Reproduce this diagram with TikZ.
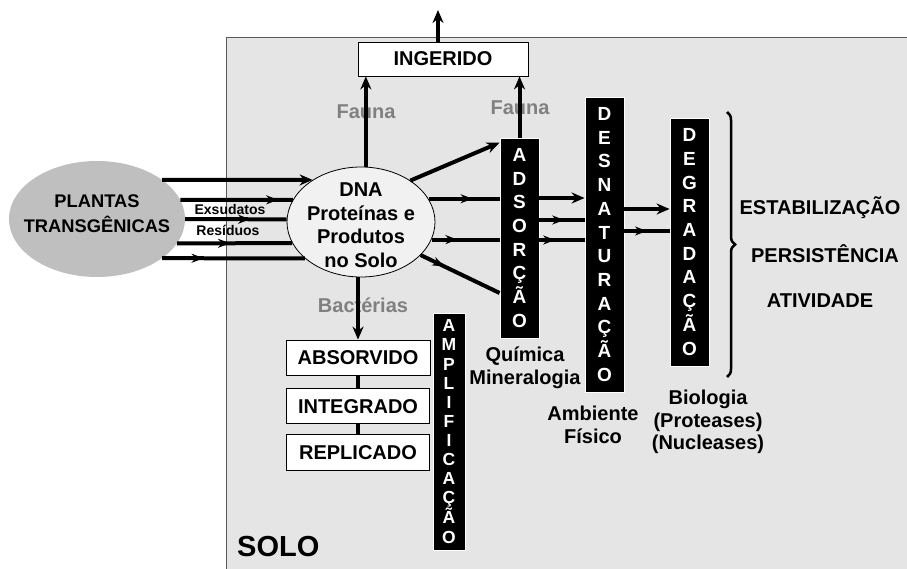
\documentclass[tikz,border=0pt]{standalone}
\usepackage{fontspec}
\setmainfont{Liberation Sans}
\usetikzlibrary{positioning,arrows.meta,calc,shapes.geometric,decorations.markings,decorations.pathreplacing}
\definecolor{soil}{RGB}{229,229,229}
\definecolor{plant}{RGB}{191,191,191}
\definecolor{dnafill}{RGB}{241,241,241}
\definecolor{fauna}{RGB}{128,128,128}
\newcommand{\boldsize}[2]{\fontsize{#1}{#2}\selectfont\bfseries}

\begin{document}
\begin{tikzpicture}[
  x=1pt, y=-1pt, >={Stealth[length=13pt,width=11pt]},
  flow/.style={line width=4pt},
  mid/.style={flow, postaction={decorate, decoration={markings, mark=at position #1 with {\arrow{Stealth[length=12pt,width=9pt]}}}}},
  box/.style={draw, line width=0.8pt, fill=white, inner sep=0pt, font=\boldsize{20}{23}},
  bar/.style={draw=white, line width=0.8pt, fill=black, text=white, inner sep=0pt, align=center, minimum width=39pt, font=\boldsize{19}{23.7}},
  txt/.style={align=center, inner sep=0pt, font=\boldsize{20}{23}},
  lbl/.style={txt, text=fauna},
]
  \useasboundingbox (0,0) rectangle (907,569);
  \fill[soil] (226,37) rectangle (907,569);
  \draw[black!65, line width=0.8pt] (226,569) |- (907,37);

  \node[ellipse, fill=plant, minimum width=176pt, minimum height=116pt] (plants) at (97,219) {};
  \node[txt, font=\boldsize{18.3}{25}] (plantstext) at ($(plants)+(0,-5)$) {PLANTAS\\TRANSGÊNICAS};
  \node[ellipse, draw, line width=0.8pt, fill=dnafill, minimum width=148pt, minimum height=110pt] (dna) at (361,222) {};
  \node[txt, font=\boldsize{20}{23.5}] (dnatext) at ($(dna)+(0,3)$) {DNA\\Proteínas e\\Produtos\\no Solo};

  \node[box, minimum width=170pt, minimum height=34pt] (ingerido) at (443,59) {INGERIDO};
  \node[bar, minimum height=200pt] (ads) at (519.5,238) {A\\D\\S\\O\\R\\Ç\\Ã\\O};
  \node[bar, minimum height=295pt] (desn) at (604.5,244.5) {D\\E\\S\\N\\A\\T\\U\\R\\A\\Ç\\Ã\\O};
  \node[bar, minimum height=248pt] (degr) at (689.5,242) {D\\E\\G\\R\\A\\D\\A\\Ç\\Ã\\O};
  \node[bar, minimum width=32pt, minimum height=237pt, font=\boldsize{17.5}{19.1}] (ampl) at (449,431.5) {A\\M\\P\\L\\I\\F\\I\\C\\A\\Ç\\Ã\\O};

  \node[box, minimum width=144pt, minimum height=35pt] (absorvido) at (358,357.5) {ABSORVIDO};
  \node[box, minimum width=143pt, minimum height=35pt, below=13pt of absorvido] (integrado) {INTEGRADO};
  \node[box, minimum width=143pt, minimum height=36pt, below=10pt of integrado] (replicado) {REPLICADO};

  \node[txt, font=\boldsize{14}{15}] (exsud) at (230,209) {Exsudatos};
  \node[txt, font=\boldsize{14}{15}] (resid) at (228,230) {Resíduos};
  \node[lbl] (fauna1) at (366,112) {Fauna};
  \node[lbl] (fauna2) at (520,108) {Fauna};
  \node[lbl] (bact) at (363,305) {Bactérias};
  \node[txt] (quim) at (525,368) {Química\\Mineralogia};
  \node[txt] (amb) at (593,425) {Ambiente\\Físico};
  \node[txt, font=\boldsize{20}{22.5}] (bio) at (708,422) {Biologia\\(Proteases)\\(Nucleases)};
  \node[txt] (estab) at (820,208) {ESTABILIZAÇÃO};
  \node[txt] (pers) at (825,254) {PERSISTÊNCIA};
  \node[txt] (ativ) at (820,301) {ATIVIDADE};
  \node[txt, font=\boldsize{29}{30}, anchor=west] (solo) at (237,547) {SOLO};

  \coordinate (out) at (438,10);
  \coordinate (brtop) at (727,112);
  \coordinate (brbot) at (727,377);

  \draw[flow, ->] (plants.31) -- (dna.139);
  \draw[mid=0.87] (plants.13) -- (dna.162);
  \draw[mid=0.64] (plants.east) -- (dna.178);
  \draw[mid=0.46] (plants.-17) -- (dna.197);
  \draw[mid=0.29] (plants.-31) -- (dna.213);

  \draw[flow, ->] (dna.85) -- (dna.85 |- ingerido.south);
  \draw[flow, ->] (ads.north) -- (ads.north |- ingerido.south);
  \draw[flow, ->] (ingerido.north -| out) -- (out);

  \draw[flow, ->] (dna.40) -- ($(ads.north west)+(0,5)$);
  \draw[mid=0.62] (dna.19) -- (dna.19 -| ads.west);
  \draw[mid=0.38] (dna.-14) -- (dna.-14 -| ads.west);
  \draw[mid=0.3] (dna.-29) -- ($(ads.west)+(0,55)$);

  \draw[flow, ->] ($(ads.east)+(0,-40)$) -- ($(desn.west)+(0,-46.5)$);
  \draw[mid=0.55] ($(ads.east)+(0,-18)$) -- ($(desn.west)+(0,-24.5)$);
  \draw[mid=0.35] ($(ads.east)+(0,2)$) -- ($(desn.west)+(0,-4.5)$);
  \draw[flow, ->] ($(desn.east)+(0,-35.5)$) -- ($(degr.west)+(0,-33)$);
  \draw[mid=0.5] ($(desn.east)+(0,-13.5)$) -- ($(degr.west)+(0,-11)$);

  \draw[flow, ->] (dna.south -| absorvido.north) -- (absorvido.north);
  \draw[flow] (absorvido) -- (integrado);
  \draw[flow] (integrado) -- (replicado);

  \draw[line width=2.5pt, decorate, decoration={brace, amplitude=8pt}] (brtop) -- (brbot);
\end{tikzpicture}
\end{document}
